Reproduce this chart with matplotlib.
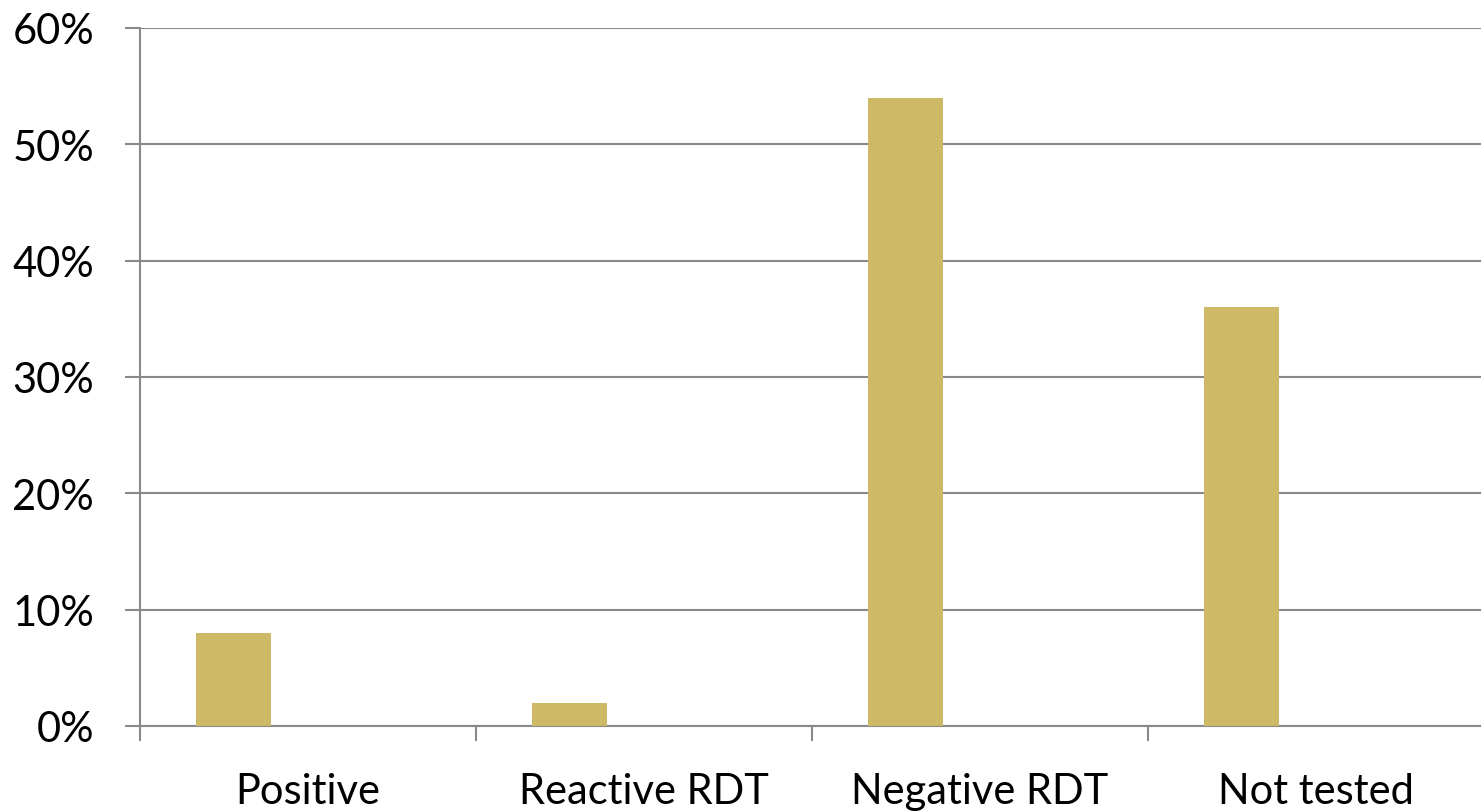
import numpy as np
import matplotlib.pyplot as plt
from matplotlib.ticker import FuncFormatter

categories = ['Positive', 'Reactive RDT', 'Negative RDT', 'Not tested']
values = [8, 2, 54, 36]  # percent

plt.rcParams['font.family'] = ['Lato', 'DejaVu Sans']

fig = plt.figure(figsize=(14.81, 8.12), dpi=100)
ax = fig.add_axes([140 / 1481, 1 - 727 / 812, 1344 / 1481, 698 / 812])

grey = '#898989'
bar_w = 75 / 336
x = np.arange(len(categories)) + 0.5
ax.bar(x - bar_w, values, width=bar_w, color='#CEB966', zorder=3)

ax.set_xlim(0, len(categories))
ax.set_ylim(0, 60)
ax.set_yticks(np.arange(0, 61, 10))
ax.yaxis.set_major_formatter(FuncFormatter(lambda v, p: f'{int(v)}%'))
ax.grid(axis='y', color=grey, linewidth=1.5, zorder=0)

ax.set_xticks(np.arange(0, len(categories) + 1))
ax.set_xticklabels([])
ax.set_xticks(x, minor=True)
ax.set_xticklabels(categories, minor=True)
ax.tick_params(axis='x', which='minor', length=0, pad=33, labelsize=30)
ax.tick_params(axis='x', which='major', length=11, width=1.5, color=grey, direction='out')
ax.tick_params(axis='y', length=11, width=1.5, color=grey, pad=22, labelsize=30)

for s in ['top', 'right']:
    ax.spines[s].set_visible(False)
for s in ['left', 'bottom']:
    ax.spines[s].set_color(grey)
    ax.spines[s].set_linewidth(1.5)

fig.savefig('out.png', dpi=100)
